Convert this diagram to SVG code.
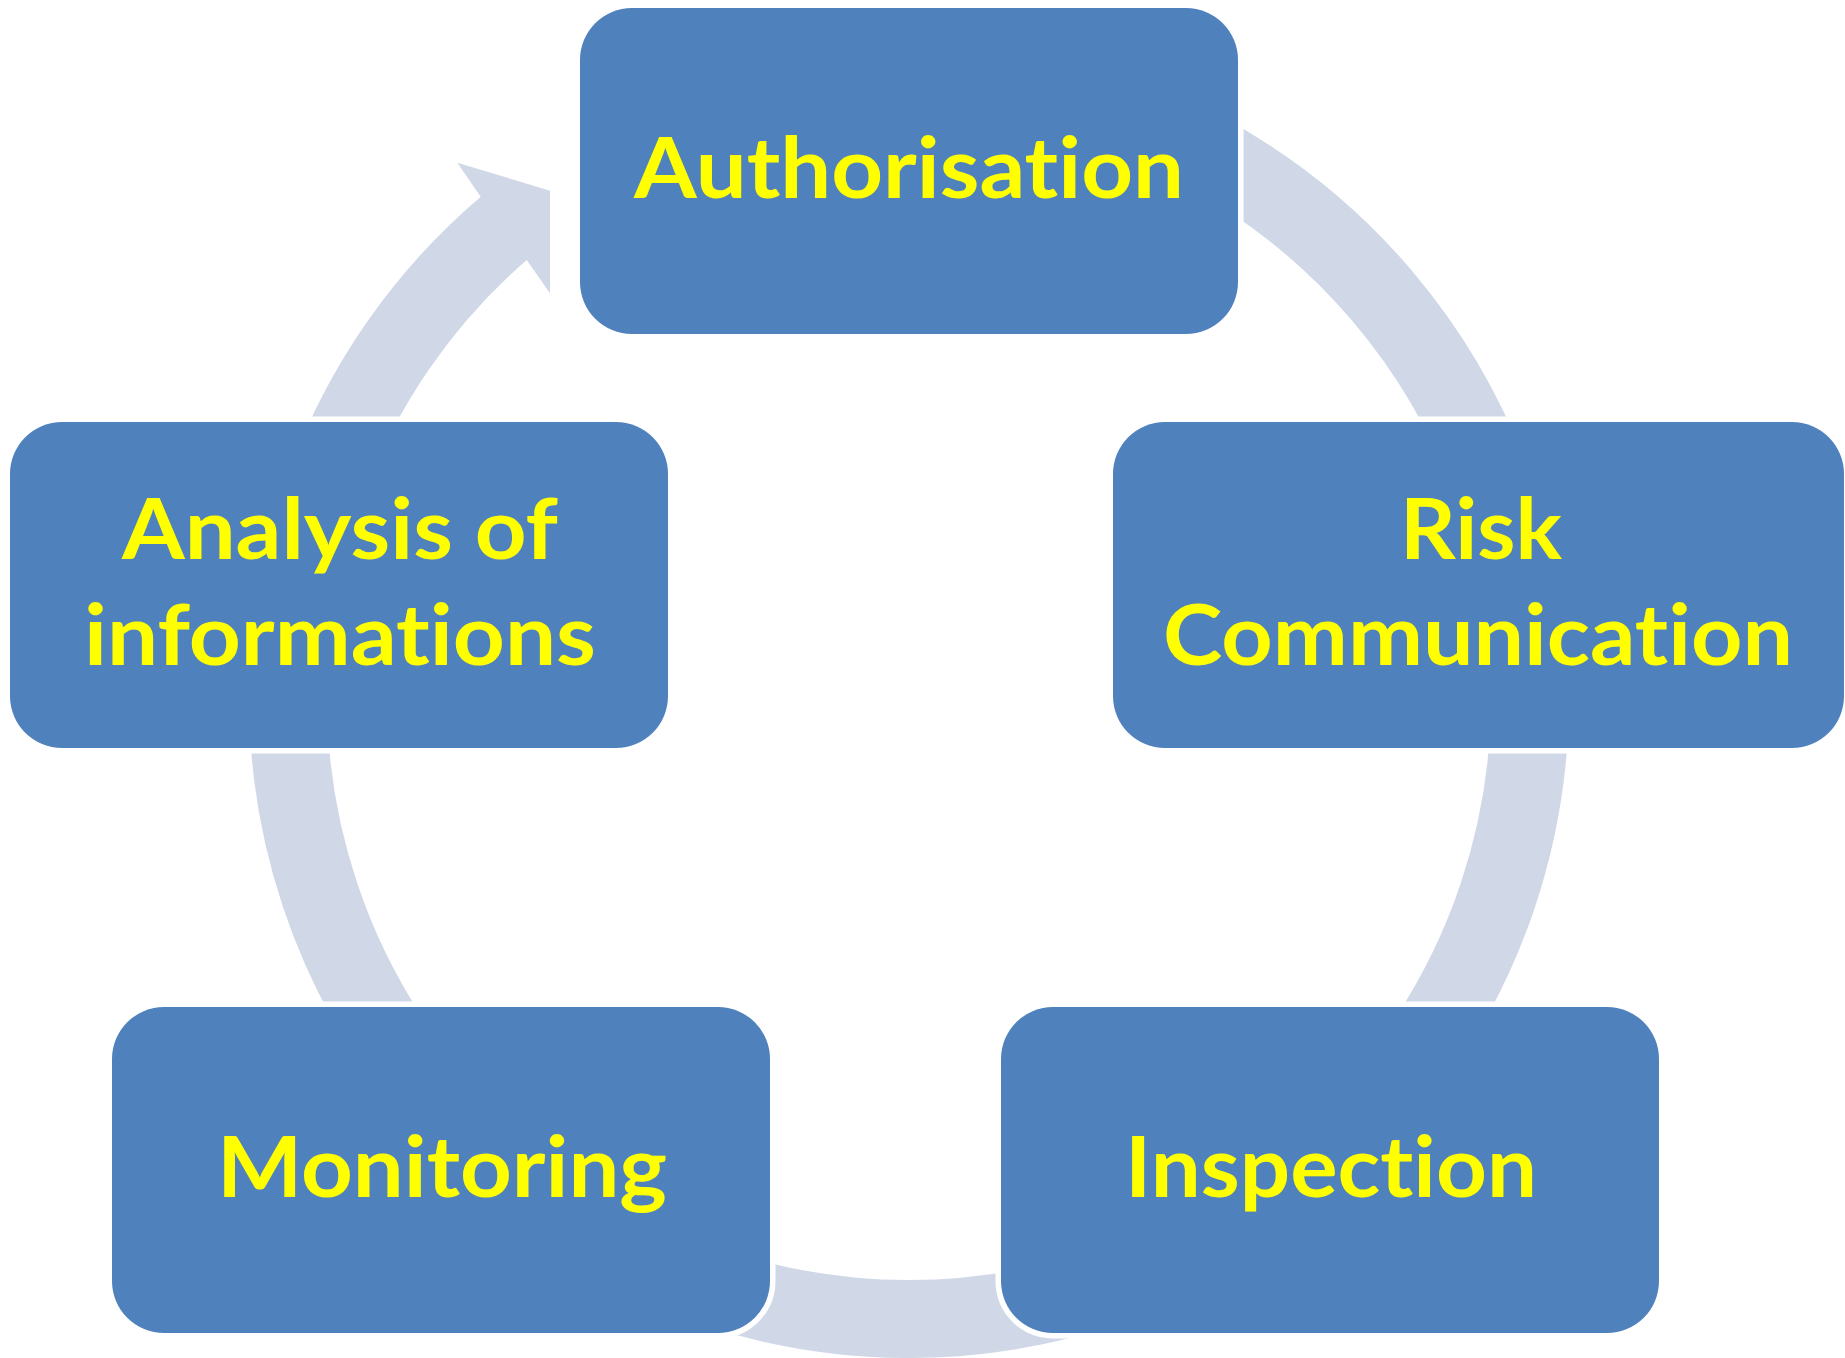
<svg xmlns="http://www.w3.org/2000/svg" width="1845" height="1358" viewBox="0 0 1845 1358">
<style>
.box{fill:#4f81bd;stroke:#ffffff;stroke-width:11;paint-order:stroke fill}
.arc{fill:none;stroke:#d0d8e8;stroke-width:78}
.arrow{fill:#d0d8e8}
.lbl{font-family:Lato,"Liberation Sans",sans-serif;font-weight:bold;font-size:85px;fill:#ffff00;text-anchor:middle;font-variant-ligatures:none;font-feature-settings:"liga" 0,"clig" 0,"dlig" 0}
</style>
<rect width="1845" height="1358" fill="#ffffff"/>
<g id="connectors">
<path class="arc" d="M 1210.1 154.9 A 621 621 0 0 1 1492.5 485.6"/>
<path class="arc" d="M 1529.6 719.7 A 621 621 0 0 1 1417.7 1054.2"/>
<path class="arc" d="M 1200.6 1246.3 A 621 621 0 0 1 617.4 1246.3"/>
<path class="arc" d="M 400.3 1054.2 A 621 621 0 0 1 288.4 719.7"/>
<path class="arrow" d="M 288.8 472.3 A 660 660 0 0 1 480.7 196.7 L 457.3 162.7 L 550 190.7 L 550 293.3 L 526.7 260 A 582 582 0 0 0 362.1 499 Z"/>
</g>
<g id="node-authorisation">
<rect class="box" x="580" y="8" width="658" height="326" rx="52" ry="52"/>
<text class="lbl" x="909" y="198" textLength="550" lengthAdjust="spacingAndGlyphs">Authorisation</text>
</g>
<g id="node-risk">
<rect class="box" x="1113" y="422" width="731" height="326" rx="52" ry="52"/>
<text class="lbl" x="1481" y="559" textLength="162" lengthAdjust="spacingAndGlyphs">Risk</text>
<text class="lbl" x="1478" y="665" textLength="630" lengthAdjust="spacingAndGlyphs">Communication</text>
</g>
<g id="node-inspection">
<rect class="box" x="1001" y="1007" width="658" height="326" rx="52" ry="52"/>
<text class="lbl" x="1331" y="1197" textLength="412" lengthAdjust="spacingAndGlyphs">Inspection</text>
</g>
<g id="node-monitoring">
<rect class="box" x="112" y="1007" width="658" height="326" rx="52" ry="52"/>
<text class="lbl" x="442" y="1197" textLength="450" lengthAdjust="spacingAndGlyphs">Monitoring</text>
</g>
<g id="node-analysis">
<rect class="box" x="10" y="422" width="658" height="326" rx="52" ry="52"/>
<text class="lbl" x="340" y="559" textLength="436" lengthAdjust="spacingAndGlyphs">Analysis of</text>
<text class="lbl" x="340" y="665" textLength="512" lengthAdjust="spacingAndGlyphs">informations</text>
</g>
</svg>
